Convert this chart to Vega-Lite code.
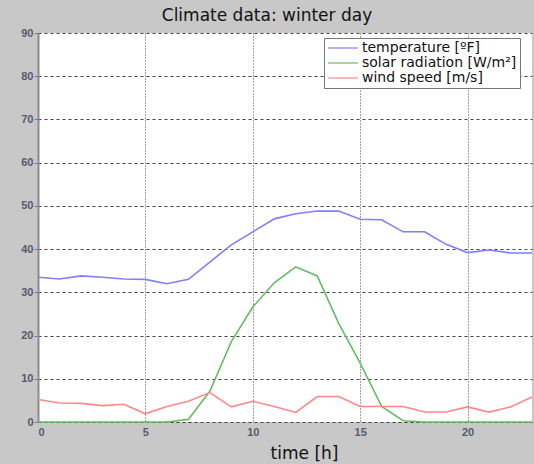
{
  "$schema": "https://vega.github.io/schema/vega-lite/v6.json",
  "width": 494,
  "height": 389,
  "autosize": {"type": "none"},
  "padding": {"left": 38, "top": 33, "right": 2, "bottom": 42},
  "background": "#c8c8c8",
  "title": {
    "text": "Climate data: winter day",
    "font": "DejaVu Sans",
    "fontSize": 17,
    "fontWeight": "normal",
    "color": "#111111",
    "anchor": "middle",
    "dx": -18,
    "offset": 2
  },
  "config": {
    "view": {"fill": "white", "stroke": null},
    "axis": {
      "labelFont": "Liberation Sans",
      "labelFontSize": 11,
      "labelFontWeight": "bold",
      "labelColor": "#555a6e",
      "gridColor": "#222222",
      "gridOpacity": 0.85,
      "gridWidth": 1,
      "tickColor": "#777777",
      "tickSize": 4,
      "domainColor": "#8a8a8a",
      "domainWidth": 2
    },
    "axisX": {"gridDash": [1, 2]},
    "axisY": {"gridDash": [3, 3]}
  },
  "data": {
    "values": [
      {"hour": 0, "series": "temperature [ºF]", "value": 33.5},
      {"hour": 1, "series": "temperature [ºF]", "value": 33.1},
      {"hour": 2, "series": "temperature [ºF]", "value": 33.8},
      {"hour": 3, "series": "temperature [ºF]", "value": 33.5},
      {"hour": 4, "series": "temperature [ºF]", "value": 33.1},
      {"hour": 5, "series": "temperature [ºF]", "value": 33.0},
      {"hour": 6, "series": "temperature [ºF]", "value": 32.0},
      {"hour": 7, "series": "temperature [ºF]", "value": 33.0},
      {"hour": 8, "series": "temperature [ºF]", "value": 37.0},
      {"hour": 9, "series": "temperature [ºF]", "value": 41.0},
      {"hour": 10, "series": "temperature [ºF]", "value": 44.0},
      {"hour": 11, "series": "temperature [ºF]", "value": 47.0},
      {"hour": 12, "series": "temperature [ºF]", "value": 48.2},
      {"hour": 13, "series": "temperature [ºF]", "value": 48.8},
      {"hour": 14, "series": "temperature [ºF]", "value": 48.8},
      {"hour": 15, "series": "temperature [ºF]", "value": 46.9},
      {"hour": 16, "series": "temperature [ºF]", "value": 46.8},
      {"hour": 17, "series": "temperature [ºF]", "value": 44.0},
      {"hour": 18, "series": "temperature [ºF]", "value": 44.0},
      {"hour": 19, "series": "temperature [ºF]", "value": 41.1},
      {"hour": 20, "series": "temperature [ºF]", "value": 39.2},
      {"hour": 21, "series": "temperature [ºF]", "value": 39.8},
      {"hour": 22, "series": "temperature [ºF]", "value": 39.1},
      {"hour": 23, "series": "temperature [ºF]", "value": 39.1},
      {"hour": 0, "series": "solar radiation [W/m²]", "value": 0},
      {"hour": 1, "series": "solar radiation [W/m²]", "value": 0},
      {"hour": 2, "series": "solar radiation [W/m²]", "value": 0},
      {"hour": 3, "series": "solar radiation [W/m²]", "value": 0},
      {"hour": 4, "series": "solar radiation [W/m²]", "value": 0},
      {"hour": 5, "series": "solar radiation [W/m²]", "value": 0},
      {"hour": 6, "series": "solar radiation [W/m²]", "value": 0},
      {"hour": 7, "series": "solar radiation [W/m²]", "value": 0.6},
      {"hour": 8, "series": "solar radiation [W/m²]", "value": 7.1},
      {"hour": 9, "series": "solar radiation [W/m²]", "value": 18.6},
      {"hour": 10, "series": "solar radiation [W/m²]", "value": 26.6},
      {"hour": 11, "series": "solar radiation [W/m²]", "value": 32.2},
      {"hour": 12, "series": "solar radiation [W/m²]", "value": 35.9},
      {"hour": 13, "series": "solar radiation [W/m²]", "value": 33.8},
      {"hour": 14, "series": "solar radiation [W/m²]", "value": 22.8},
      {"hour": 15, "series": "solar radiation [W/m²]", "value": 13.6},
      {"hour": 16, "series": "solar radiation [W/m²]", "value": 3.6},
      {"hour": 17, "series": "solar radiation [W/m²]", "value": 0.3},
      {"hour": 18, "series": "solar radiation [W/m²]", "value": 0},
      {"hour": 19, "series": "solar radiation [W/m²]", "value": 0},
      {"hour": 20, "series": "solar radiation [W/m²]", "value": 0},
      {"hour": 21, "series": "solar radiation [W/m²]", "value": 0},
      {"hour": 22, "series": "solar radiation [W/m²]", "value": 0},
      {"hour": 23, "series": "solar radiation [W/m²]", "value": 0},
      {"hour": 0, "series": "wind speed [m/s]", "value": 5.2},
      {"hour": 1, "series": "wind speed [m/s]", "value": 4.4},
      {"hour": 2, "series": "wind speed [m/s]", "value": 4.3},
      {"hour": 3, "series": "wind speed [m/s]", "value": 3.8},
      {"hour": 4, "series": "wind speed [m/s]", "value": 4.1},
      {"hour": 5, "series": "wind speed [m/s]", "value": 1.9},
      {"hour": 6, "series": "wind speed [m/s]", "value": 3.6},
      {"hour": 7, "series": "wind speed [m/s]", "value": 4.8},
      {"hour": 8, "series": "wind speed [m/s]", "value": 6.8},
      {"hour": 9, "series": "wind speed [m/s]", "value": 3.5},
      {"hour": 10, "series": "wind speed [m/s]", "value": 4.8},
      {"hour": 11, "series": "wind speed [m/s]", "value": 3.6},
      {"hour": 12, "series": "wind speed [m/s]", "value": 2.2},
      {"hour": 13, "series": "wind speed [m/s]", "value": 5.9},
      {"hour": 14, "series": "wind speed [m/s]", "value": 5.9},
      {"hour": 15, "series": "wind speed [m/s]", "value": 3.6},
      {"hour": 16, "series": "wind speed [m/s]", "value": 3.6},
      {"hour": 17, "series": "wind speed [m/s]", "value": 3.6},
      {"hour": 18, "series": "wind speed [m/s]", "value": 2.3},
      {"hour": 19, "series": "wind speed [m/s]", "value": 2.3},
      {"hour": 20, "series": "wind speed [m/s]", "value": 3.5},
      {"hour": 21, "series": "wind speed [m/s]", "value": 2.3},
      {"hour": 22, "series": "wind speed [m/s]", "value": 3.5},
      {"hour": 23, "series": "wind speed [m/s]", "value": 5.8}
    ]
  },
  "mark": {"type": "line", "strokeWidth": 1.6, "clip": false},
  "encoding": {
    "x": {
      "field": "hour",
      "type": "quantitative",
      "scale": {"domain": [0, 23], "nice": false},
      "axis": {
        "values": [0, 5, 10, 15, 20],
        "title": "time [h]",
        "titleFont": "DejaVu Sans",
        "titleFontSize": 17,
        "titleFontWeight": "normal",
        "titleColor": "#111111",
        "titleAnchor": "start",
        "titleAlign": "center",
        "titleX": 266,
        "titleY": 36,
        "titleBaseline": "alphabetic",
        "domain": false,
        "ticks": false,
        "labelPadding": 4
      }
    },
    "y": {
      "field": "value",
      "type": "quantitative",
      "scale": {"domain": [0, 90], "nice": false},
      "axis": {
        "values": [0, 10, 20, 30, 40, 50, 60, 70, 80, 90],
        "title": null,
        "labelPadding": 1
      }
    },
    "color": {
      "field": "series",
      "type": "nominal",
      "sort": null,
      "scale": {
        "domain": ["temperature [ºF]", "solar radiation [W/m²]", "wind speed [m/s]"],
        "range": ["#7f7fff", "#66bb66", "#ff8888"]
      },
      "legend": {
        "title": null,
        "orient": "none",
        "legendX": 286,
        "legendY": 5,
        "direction": "vertical",
        "symbolType": "M-2.5,0L2.5,0",
        "symbolSize": 144,
        "symbolOffset": 9,
        "symbolStrokeWidth": 1.2,
        "labelFont": "DejaVu Sans",
        "labelFontSize": 14,
        "labelOffset": 12,
        "labelColor": "#111111",
        "labelLimit": 300,
        "rowPadding": 1,
        "fillColor": "white",
        "strokeColor": "#777777",
        "padding": 3
      }
    }
  }
}
